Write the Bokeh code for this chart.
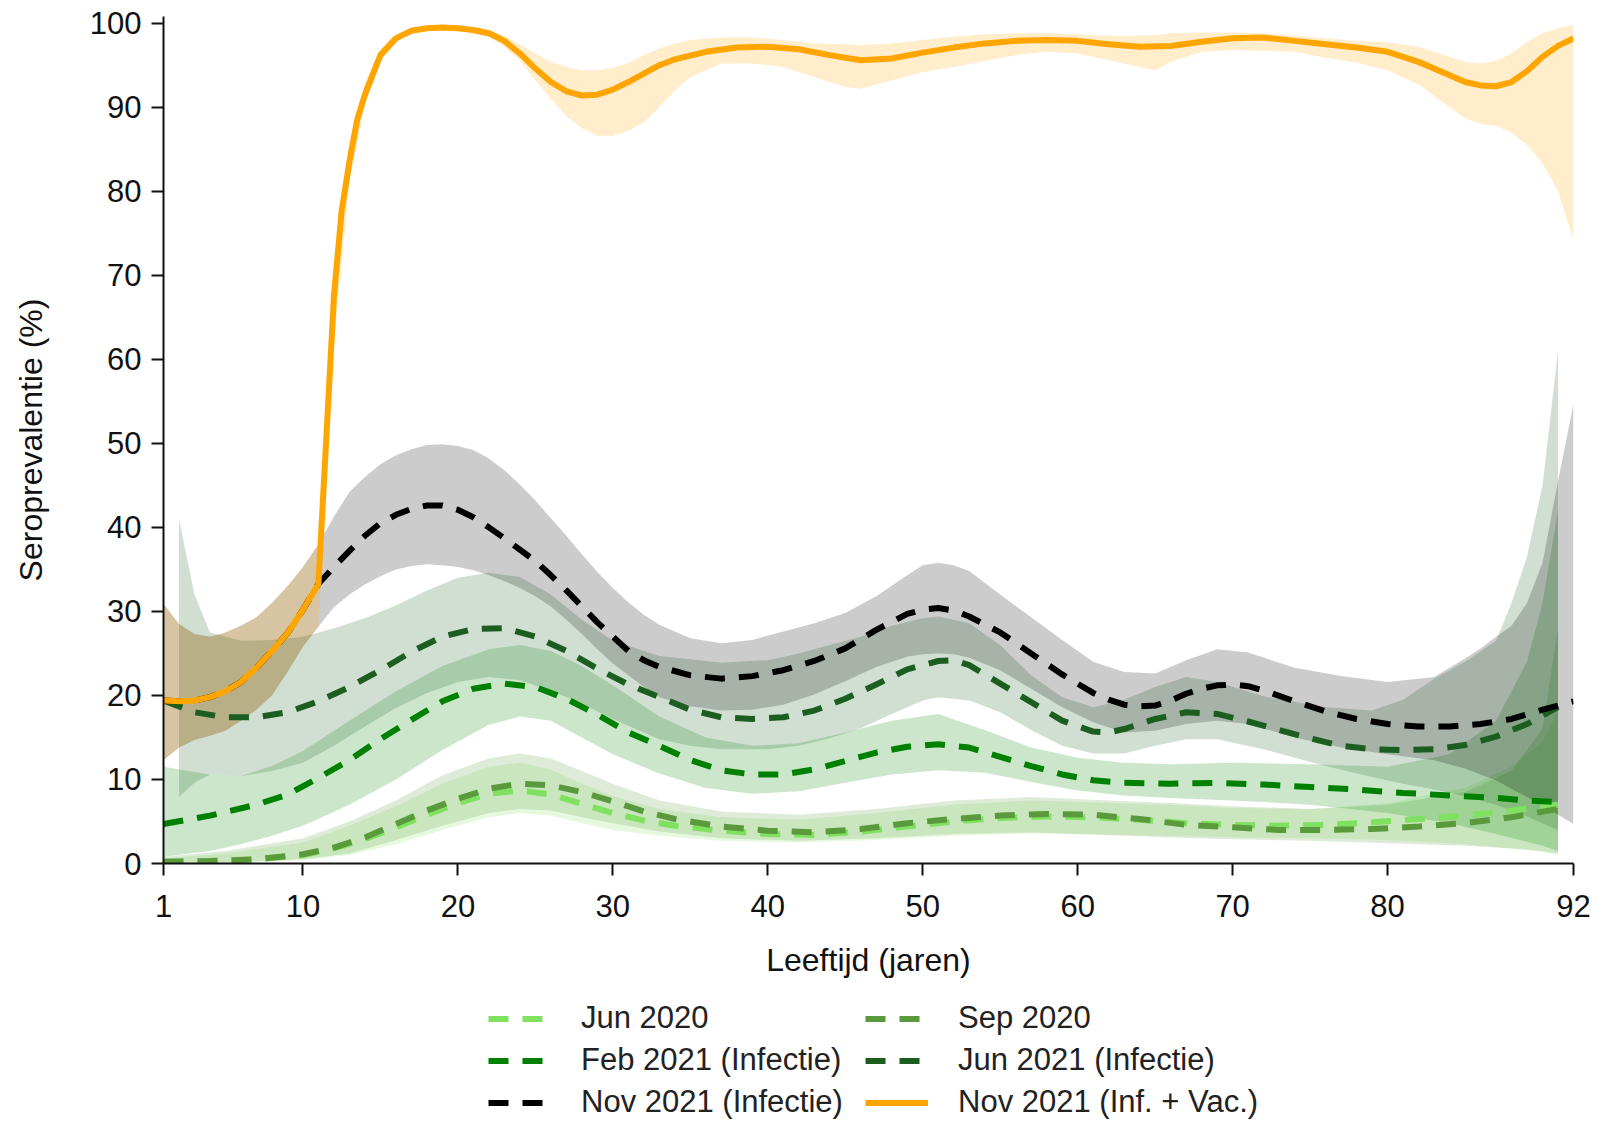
from bokeh.plotting import figure
from bokeh.layouts import column
from bokeh.models import Range1d, FixedTicker, Legend, LegendItem
from bokeh.embed import file_html
from bokeh.resources import INLINE

FONT = "Liberation Sans"

# ---------------- data ----------------
x_ticks = [1, 10, 20, 30, 40, 50, 60, 70, 80, 92]
y_ticks = [0, 10, 20, 30, 40, 50, 60, 70, 80, 90, 100]

# Nov 2021 (Inf. + Vac.)
vac_age = [1, 2, 3, 4, 5, 6, 7, 8, 9, 10, 11, 12, 12.5, 13, 13.5, 14, 15, 16, 17, 18, 19, 20, 21, 22, 23, 24, 25,
           26, 27, 28, 29, 30, 31, 32, 33, 34, 36, 38, 40, 42, 44, 46, 48, 50, 52, 54, 56, 58, 60, 62, 64, 66,
           68, 70, 72, 74, 76, 78, 80, 82, 84, 85, 86, 87, 88, 89, 90, 91, 92]
vac_val = [19.4, 19.3, 19.4, 19.8, 20.5, 21.6, 23.3, 25.3, 27.4, 30.2, 33.3, 67.5, 77.7, 83.5, 88.5, 91.5, 96.2,
           98.2, 99.1, 99.4, 99.5, 99.4, 99.2, 98.8, 97.9, 96.4, 94.6, 93.0, 91.9, 91.4, 91.5, 92.1, 93.0, 94.0,
           95.0, 95.7, 96.6, 97.1, 97.2, 96.9, 96.2, 95.6, 95.8, 96.5, 97.1, 97.6, 97.9, 98.0, 97.9, 97.5, 97.2,
           97.3, 97.8, 98.2, 98.3, 97.9, 97.5, 97.1, 96.6, 95.4, 93.8, 93.0, 92.6, 92.5, 93.0, 94.3, 96.0, 97.3,
           98.2]
vac_band_age = [1, 2, 3, 4, 5, 6, 7, 8, 9, 10, 11, 12, 13, 14, 15, 16, 17, 18, 20, 22, 23, 24, 25, 26, 27, 28,
                29, 30, 31, 32, 33, 34, 35, 37, 39, 41, 43, 45, 46, 48, 50, 52, 54, 56, 58, 60, 62, 64, 65, 66,
                68, 70, 72, 74, 76, 78, 80, 82, 84, 85, 86, 87, 88, 89, 90, 91, 92]
vac_lo = [12.3, 13.8, 14.7, 15.2, 15.8, 17.0, 18.3, 20.0, 22.8, 25.8, 28.2, 62.0, 81.0, 90.3, 95.5, 97.8, 98.8,
          99.2, 99.2, 98.4, 97.2, 95.5, 93.2, 91.0, 89.0, 87.5, 86.6, 86.6, 87.2, 88.2, 90.0, 92.0, 93.6, 95.2,
          95.2, 94.8, 93.6, 92.4, 92.2, 93.2, 94.2, 94.8, 95.5, 96.2, 96.6, 96.4, 95.6, 94.8, 94.4, 95.4, 96.6,
          96.8, 96.7, 96.6, 95.9, 95.3, 94.4, 92.7, 90.0, 88.7, 88.0, 87.8, 87.0, 85.5, 83.3, 80.0, 74.2]
vac_hi = [30.9, 28.5, 27.3, 27.0, 27.5, 28.3, 29.3, 31.0, 33.0, 35.3, 38.0, 72.0, 86.0, 93.0, 97.0, 98.7, 99.4,
          99.6, 99.6, 99.2, 98.5, 97.5, 96.4, 95.4, 94.8, 94.4, 94.4, 94.7, 95.3, 96.2, 97.0, 97.6, 98.0, 98.3,
          98.3, 98.0, 97.6, 97.5, 97.4, 97.6, 98.0, 98.4, 98.7, 98.8, 98.8, 98.7, 98.5, 98.5, 98.6, 98.8, 98.9,
          98.9, 98.8, 98.5, 98.2, 97.9, 97.7, 97.2, 96.0, 95.4, 95.2, 95.5, 96.4, 97.8, 98.8, 99.4, 99.8]

# Nov 2021 (Infectie)
nov_age = [1, 2, 3, 4, 5, 6, 7, 8, 9, 10, 11, 12, 13, 14, 15, 16, 17, 18, 19, 20, 21, 22, 23, 25, 26, 27, 28,
           29, 30, 31, 32, 33, 35, 37, 39, 41, 43, 45, 47, 49, 50, 51, 52, 53, 55, 57, 59, 61, 62, 63, 64, 65,
           66, 67, 68, 69, 70, 71, 72, 74, 76, 78, 80, 82, 84, 86, 88, 90, 92]
nov_val = [19.4, 19.3, 19.4, 19.8, 20.5, 21.6, 23.3, 25.3, 27.4, 30.2, 33.3, 35.3, 37.2, 39.0, 40.5, 41.5, 42.2,
           42.6, 42.6, 42.1, 41.2, 40.0, 38.7, 36.0, 34.3, 32.5, 30.6, 28.7, 27.0, 25.3, 24.2, 23.4, 22.4, 22.0,
           22.3, 23.0, 24.1, 25.6, 27.8, 29.7, 30.2, 30.4, 30.1, 29.4, 27.5, 25.0, 22.5, 20.3, 19.5, 18.9, 18.7,
           18.8, 19.4, 20.2, 20.8, 21.2, 21.3, 21.1, 20.6, 19.3, 18.1, 17.2, 16.6, 16.3, 16.3, 16.6, 17.2, 18.3,
           19.3]
nov_band_age = [1, 2, 3, 4, 5, 6, 7, 8, 9, 10, 11, 12, 13, 14, 15, 16, 17, 18, 19, 20, 21, 22, 23, 24, 25, 26,
                27, 28, 29, 30, 31, 32, 33, 35, 37, 39, 41, 43, 45, 47, 49, 50, 51, 52, 53, 55, 57, 59, 61, 63,
                65, 67, 69, 71, 74, 77, 80, 83, 85, 86, 87, 88, 89, 90, 91, 92]
nov_lo = [12.3, 13.8, 14.7, 15.2, 15.8, 17.0, 18.3, 20.0, 22.8, 25.8, 28.2, 30.5, 32.0, 33.2, 34.2, 35.0, 35.4,
          35.6, 35.5, 35.3, 34.9, 34.3, 33.6, 32.8, 31.8, 30.6, 29.0, 27.3, 25.5, 23.8, 22.4, 21.0, 19.8, 18.7,
          18.2, 18.3, 18.9, 20.1, 21.7, 23.4, 24.6, 24.9, 25.0, 24.9, 24.5, 23.0, 20.8, 18.6, 16.8, 15.6, 15.8,
          16.6, 17.0, 16.6, 15.0, 13.8, 13.0, 12.3, 11.3, 10.6, 9.9, 8.9, 7.9, 6.9, 5.8, 4.7]
nov_hi = [30.9, 28.5, 27.3, 27.0, 27.5, 28.3, 29.3, 31.0, 33.0, 35.3, 38.0, 41.3, 44.2, 46.0, 47.5, 48.6, 49.3,
          49.8, 49.9, 49.7, 49.2, 48.2, 46.8, 45.1, 43.2, 41.1, 39.0, 36.8, 34.7, 32.8, 31.1, 29.6, 28.4, 26.8,
          26.2, 26.6, 27.6, 28.6, 29.8, 31.8, 34.3, 35.5, 35.8, 35.5, 34.8, 32.0, 29.3, 26.6, 24.0, 22.8, 22.6,
          24.2, 25.5, 25.1, 23.3, 22.3, 21.6, 22.2, 24.4, 25.6, 27.0, 28.3, 31.0, 35.8, 45.5, 54.7]

# Jun 2021 (Infectie)
j21_age = [1, 2, 3, 5, 7, 9, 11, 13, 15, 17, 19, 21, 23, 25, 27, 29, 31, 33, 35, 37, 39, 41, 43, 45, 47, 49, 51,
           52, 53, 55, 57, 59, 61, 62, 63, 65, 67, 69, 71, 73, 75, 77, 79, 81, 83, 85, 87, 89, 91]
j21_val = [19.4, 18.7, 18.0, 17.4, 17.4, 18.0, 19.3, 21.0, 23.0, 25.2, 27.0, 27.9, 28.0, 27.0, 25.3, 23.2, 21.3,
           19.8, 18.3, 17.4, 17.2, 17.4, 18.2, 19.6, 21.3, 23.1, 24.1, 24.2, 23.6, 21.4, 19.2, 17.0, 15.7, 15.6,
           16.0, 17.2, 18.0, 17.8, 16.9, 15.9, 14.9, 14.0, 13.6, 13.5, 13.6, 14.1, 15.1, 16.6, 18.6]
j21_band_age = [2, 3, 4, 6, 8, 10, 12, 14, 16, 18, 20, 22, 24, 26, 28, 30, 33, 35, 37, 40, 42, 44, 46, 48, 50,
                51, 53, 55, 57, 59, 61, 63, 65, 67, 69, 72, 76, 79, 81, 83, 85, 87, 88, 89, 90, 91]
j21_lo = [7.9, 9.6, 10.6, 10.4, 11.0, 12.0, 14.0, 16.3, 18.5, 20.3, 21.6, 22.2, 21.8, 20.6, 19.0, 17.2, 14.8,
          14.0, 13.6, 13.6, 14.0, 14.9, 16.1, 17.8, 19.4, 19.8, 19.4, 18.0, 15.9, 14.0, 13.1, 13.1, 14.0, 14.8,
          14.8, 13.6, 11.6, 10.3, 9.5, 8.8, 8.0, 7.0, 6.3, 5.6, 4.8, 4.0]
j21_hi = [41.0, 32.0, 27.5, 26.5, 26.6, 27.0, 28.0, 29.2, 30.7, 32.5, 34.0, 34.6, 34.1, 32.0, 29.0, 26.5, 24.7,
          24.3, 23.9, 24.2, 25.0, 26.0, 27.0, 28.3, 29.2, 29.4, 28.6, 26.0, 22.4, 19.8, 18.6, 19.5, 21.0, 22.2,
          21.6, 19.9, 18.6, 18.2, 19.5, 22.0, 24.0, 26.5, 31.0, 36.5, 45.0, 61.0]

# Feb 2021 (Infectie)
feb_age = [1, 4, 7, 9, 11, 13, 15, 17, 19, 21, 23, 25, 27, 29, 31, 33, 35, 37, 39, 41, 43, 45, 47, 49, 51, 53,
           55, 57, 59, 61, 63, 66, 69, 72, 75, 78, 81, 84, 87, 89, 91]
feb_val = [4.7, 5.7, 7.0, 8.2, 10.2, 12.3, 14.8, 17.1, 19.3, 20.8, 21.4, 21.0, 19.6, 17.7, 15.6, 14.0, 12.3, 11.1,
           10.6, 10.6, 11.2, 12.2, 13.2, 13.9, 14.2, 13.8, 12.7, 11.6, 10.6, 9.9, 9.6, 9.5, 9.6, 9.4, 9.1, 8.8,
           8.4, 8.1, 7.8, 7.5, 7.3]
feb_band_age = [1, 4, 6, 8, 10, 13, 16, 19, 22, 24, 26, 28, 30, 33, 36, 39, 42, 45, 48, 51, 54, 57, 60, 63, 66,
                70, 75, 80, 84, 87, 89, 90, 91]
feb_lo = [0.8, 1.5, 2.3, 3.3, 4.5, 7.0, 10.0, 13.5, 16.5, 17.5, 17.0, 15.0, 13.0, 10.7, 9.0, 8.3, 8.6, 9.6, 10.6,
          11.1, 10.8, 9.7, 8.7, 8.1, 7.8, 7.5, 7.0, 6.0, 4.8, 3.5, 2.6, 2.1, 1.5]
feb_hi = [11.5, 10.6, 10.4, 11.6, 13.4, 17.0, 20.5, 23.5, 25.5, 26.0, 25.3, 23.5, 21.2, 17.5, 15.0, 14.0, 14.3,
          15.6, 17.0, 17.8, 15.9, 13.8, 12.6, 12.0, 11.8, 12.0, 11.8, 11.5, 13.0, 17.0, 24.0, 31.0, 42.0]

# Sep 2020
sep_age = [1, 4, 7, 10, 12, 14, 16, 18, 20, 22, 24, 26, 28, 30, 32, 34, 37, 40, 43, 46, 49, 52, 55, 58, 61, 64,
           67, 70, 73, 76, 79, 82, 85, 88, 91]
sep_val = [0.2, 0.3, 0.5, 1.1, 1.9, 3.1, 4.7, 6.3, 7.7, 8.9, 9.5, 9.3, 8.5, 7.4, 6.2, 5.3, 4.4, 3.9, 3.7, 4.1,
           4.8, 5.3, 5.7, 5.9, 5.8, 5.3, 4.6, 4.3, 4.0, 4.0, 4.1, 4.4, 4.8, 5.5, 6.5]
sep_band_age = [1, 5, 10, 13, 16, 19, 22, 24, 26, 28, 30, 33, 37, 42, 47, 52, 57, 62, 66, 70, 75, 80, 85, 88,
                90, 91]
sep_lo = [0.0, 0.1, 0.5, 1.2, 2.8, 4.5, 6.0, 6.5, 6.3, 5.5, 4.8, 3.8, 3.0, 2.7, 3.0, 3.5, 3.7, 3.4, 3.1, 2.9,
          2.7, 2.4, 2.1, 1.8, 1.5, 1.2]
sep_hi = [0.8, 1.5, 3.0, 5.0, 7.5, 10.5, 12.5, 13.1, 12.5, 11.0, 9.5, 7.5, 6.2, 5.8, 6.5, 7.5, 7.9, 7.5, 7.2, 6.8,
          6.5, 7.0, 8.5, 11.0, 16.0, 28.0]

# Jun 2020
j20_age = [1, 4, 7, 10, 12, 14, 16, 18, 20, 22, 24, 26, 28, 30, 32, 34, 37, 40, 43, 46, 49, 52, 55, 58, 61, 64,
           67, 70, 73, 76, 79, 82, 85, 88, 91]
j20_val = [0.2, 0.3, 0.5, 1.0, 1.8, 2.9, 4.3, 5.8, 7.2, 8.3, 8.7, 8.2, 7.1, 6.0, 5.1, 4.5, 3.9, 3.5, 3.4, 3.8,
           4.4, 5.0, 5.4, 5.6, 5.5, 5.2, 4.8, 4.6, 4.5, 4.6, 4.9, 5.3, 5.7, 6.3, 7.0]
j20_band_age = [1, 5, 10, 13, 16, 19, 22, 24, 26, 28, 30, 33, 37, 42, 47, 52, 57, 62, 66, 70, 75, 80, 85, 88,
                90, 91]
j20_lo = [0.0, 0.1, 0.4, 1.0, 2.3, 4.0, 5.5, 6.0, 5.7, 4.8, 4.0, 3.3, 2.7, 2.5, 2.8, 3.3, 3.6, 3.4, 3.3, 3.1,
          3.0, 2.8, 2.3, 1.8, 1.4, 1.0]
j20_hi = [0.6, 1.2, 2.5, 4.5, 6.8, 9.5, 11.5, 12.0, 11.2, 9.5, 8.0, 6.5, 5.5, 5.2, 6.0, 7.0, 7.5, 7.2, 7.0, 6.6,
          6.5, 7.2, 9.0, 11.5, 14.5, 18.0]

labels = ["Jun 2020", "Sep 2020", "Feb 2021 (Infectie)", "Jun 2021 (Infectie)",
          "Nov 2021 (Infectie)", "Nov 2021 (Inf. + Vac.)"]
colors = ["#80e060", "#5a9a3c", "#008000", "#1b5e20", "#000000", "#ffa500"]
dashed = [True, True, True, True, True, False]

# ---------------- main figure ----------------
p = figure(width=1593, height=990, output_backend="svg", toolbar_location=None,
           x_range=Range1d(1, 92), y_range=Range1d(0, 100.8),
           min_border_left=163, min_border_right=20, min_border_top=16, min_border_bottom=127)
p.outline_line_color = None
p.grid.visible = False
p.background_fill_color = "white"
p.border_fill_color = "white"

bands = [(j20_band_age, j20_lo, j20_hi), (sep_band_age, sep_lo, sep_hi), (feb_band_age, feb_lo, feb_hi),
         (j21_band_age, j21_lo, j21_hi), (nov_band_age, nov_lo, nov_hi), (vac_band_age, vac_lo, vac_hi)]
for (a, lo, hi), c in zip(bands, colors):
    p.varea(x=a, y1=lo, y2=hi, fill_color=c, fill_alpha=0.2)

lines = [(j20_age, j20_val), (sep_age, sep_val), (feb_age, feb_val), (j21_age, j21_val),
         (nov_age, nov_val), (vac_age, vac_val)]
for (a, v), c, d in zip(lines, colors, dashed):
    if d:
        p.line(a, v, line_color=c, line_width=6, line_dash="20 14")
    else:
        p.line(a, v, line_color=c, line_width=6)

for ax in (p.xaxis[0], p.yaxis[0]):
    ax.axis_line_color = "#111111"
    ax.axis_line_width = 2
    ax.major_tick_line_color = "#111111"
    ax.major_tick_line_width = 2
    ax.major_tick_out = 12
    ax.major_tick_in = 0
    ax.minor_tick_line_color = None
    ax.major_label_text_font = FONT
    ax.major_label_text_font_size = "31px"
    ax.major_label_text_color = "#111111"
    ax.axis_label_text_font = FONT
    ax.axis_label_text_font_size = "32px"
    ax.axis_label_text_font_style = "normal"
    ax.axis_label_text_color = "#111111"

p.xaxis.ticker = FixedTicker(ticks=x_ticks)
p.yaxis.ticker = FixedTicker(ticks=y_ticks)
p.xaxis.axis_label = "Leeftijd (jaren)"
p.yaxis.axis_label = "Seroprevalentie (%)"
p.xaxis.major_label_standoff = 19
p.xaxis.axis_label_standoff = 22
p.yaxis.major_label_standoff = 10
p.yaxis.axis_label_standoff = 38

# ---------------- legend strip (same series, drawn off-range: only the legend shows) ----------------
q = figure(width=1593, height=134, output_backend="svg", toolbar_location=None,
           x_range=Range1d(-3, -2), y_range=Range1d(-3, -2),
           x_axis_location=None, y_axis_location=None,
           min_border_left=0, min_border_right=0, min_border_top=0, min_border_bottom=0)
q.outline_line_color = None
q.grid.visible = False
q.background_fill_color = "white"
q.border_fill_color = "white"

keys = []
for (a, v), c, d in zip(lines, colors, dashed):
    if d:
        keys.append(q.line(a, v, line_color=c, line_width=6, line_dash="20 14"))
    else:
        keys.append(q.line(a, v, line_color=c, line_width=6))


def make_legend(idx, xoff):
    return Legend(items=[LegendItem(label=labels[i], renderers=[keys[i]]) for i in idx],
                  location=(xoff, 4), orientation="vertical",
                  glyph_width=63, glyph_height=35, label_height=35,
                  label_standoff=30, spacing=6, padding=0, margin=0,
                  border_line_color=None, background_fill_alpha=0.0,
                  label_text_font=FONT, label_text_font_size="31px", label_text_color="#222222")


q.add_layout(make_legend([0, 2, 4], 325))
q.add_layout(make_legend([1, 3, 5], 702))

layout = column(p, q, spacing=0)
open("out.html", "w").write(file_html(layout, INLINE))
